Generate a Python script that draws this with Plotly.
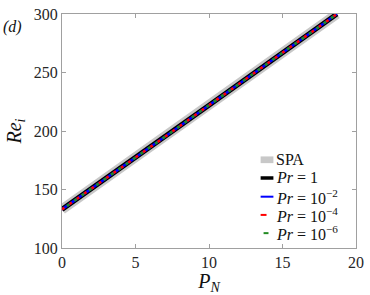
import plotly.graph_objects as go

# Data
p_n = [0.0, 2.5, 5.0, 7.5, 10.0, 12.5, 15.0, 17.5, 18.7]
re_i = [133.0, 155.0, 177.5, 199.5, 222.0, 244.5, 267.0, 289.5, 300.0]

x_ticks = [0, 5, 10, 15, 20]
y_ticks = [100, 150, 200, 250, 300]

series_names = ["SPA", "<i>Pr</i> = 1", "<i>Pr</i> = 10<sup>−2</sup>",
                "<i>Pr</i> = 10<sup>−4</sup>", "<i>Pr</i> = 10<sup>−6</sup>"]
series_colors = ["#c8c8c8", "#000000", "#0000ff", "#ff0000", "#228b22"]
series_widths = [10, 5, 2.5, 2.5, 2.5]
series_dashes = ["solid", "solid", "solid", "3px,6px", "0px,6px,3px,0px"]

SERIF = "Liberation Serif"

fig = go.Figure()
for name, color, width, dash in zip(series_names, series_colors, series_widths, series_dashes):
    fig.add_trace(go.Scatter(
        x=p_n, y=re_i, mode="lines", name=name, showlegend=False,
        line=dict(color=color, width=width, dash=dash),
    ))

axis_common = dict(
    showgrid=False, zeroline=False, showline=True, mirror="ticks",
    linecolor="#a0a0a0", linewidth=1, ticks="inside", ticklen=4,
    tickcolor="#a0a0a0", ticklabeloverflow="allow",
    tickfont=dict(family=SERIF, size=16, color="#262626"),
)

# custom legend (small MATLAB-style legend symbols)
L = 62.0
W = 299.0
B = 250.0
H = 244.0
def px(xp):
    return (xp - L) / W
def py(yp):
    return (B - yp) / H

row_y = [158, 177, 196.5, 215.5, 234.5]
shapes = []
annotations = []
sym_x0, sym_x1, text_x = 264, 277, 278
for i, (name, color) in enumerate(zip(series_names, series_colors)):
    yc = row_y[i]
    if i == 0:
        shapes.append(dict(type="rect", xref="paper", yref="paper",
                           x0=px(sym_x0), x1=px(sym_x1), y0=py(yc + 3.5), y1=py(yc - 3.5),
                           fillcolor=color, line=dict(width=0)))
    elif i == 1:
        shapes.append(dict(type="line", xref="paper", yref="paper",
                           x0=px(sym_x0), x1=px(sym_x1), y0=py(yc), y1=py(yc),
                           line=dict(color=color, width=3.5)))
    elif i == 2:
        shapes.append(dict(type="line", xref="paper", yref="paper",
                           x0=px(sym_x0), x1=px(sym_x1), y0=py(yc), y1=py(yc),
                           line=dict(color=color, width=2)))
    elif i == 3:
        shapes.append(dict(type="line", xref="paper", yref="paper",
                           x0=px(sym_x0), x1=px(sym_x0 + 6), y0=py(yc), y1=py(yc),
                           line=dict(color=color, width=2)))
    else:
        shapes.append(dict(type="line", xref="paper", yref="paper",
                           x0=px(sym_x0 + 3), x1=px(sym_x0 + 8), y0=py(yc), y1=py(yc),
                           line=dict(color=color, width=2)))
    annotations.append(dict(text=name, x=px(text_x), y=py(yc), xref="paper", yref="paper",
                            xanchor="left", yanchor="middle", showarrow=False,
                            font=dict(family=SERIF, size=16, color="#111111")))

annotations.append(dict(text="<i>(d)</i>", x=0, y=1, xref="paper", yref="paper",
                        xanchor="left", yanchor="top", xshift=-61, yshift=-2, showarrow=False,
                        font=dict(family=SERIF, size=16, color="#111111")))

fig.update_layout(
    width=370, height=295,
    margin=dict(l=62, r=9, t=6, b=45),
    paper_bgcolor="white", plot_bgcolor="white",
    showlegend=False,
    font=dict(family=SERIF),
    xaxis=dict(range=[0, 20], tickvals=x_ticks,
               title=dict(text="<i>P<sub>N</sub></i>", standoff=4,
                          font=dict(family=SERIF, size=20, color="#111111")),
               **axis_common),
    yaxis=dict(range=[100, 300], tickvals=y_ticks,
               title=dict(text="<i>Re<sub>i</sub></i>", standoff=6,
                          font=dict(family=SERIF, size=20, color="#111111")),
               **axis_common),
    shapes=shapes,
    annotations=annotations,
)

fig.write_html("out.html", config={"displayModeBar": False},
               post_script="document.body.style.margin='0';document.body.style.padding='0';")
